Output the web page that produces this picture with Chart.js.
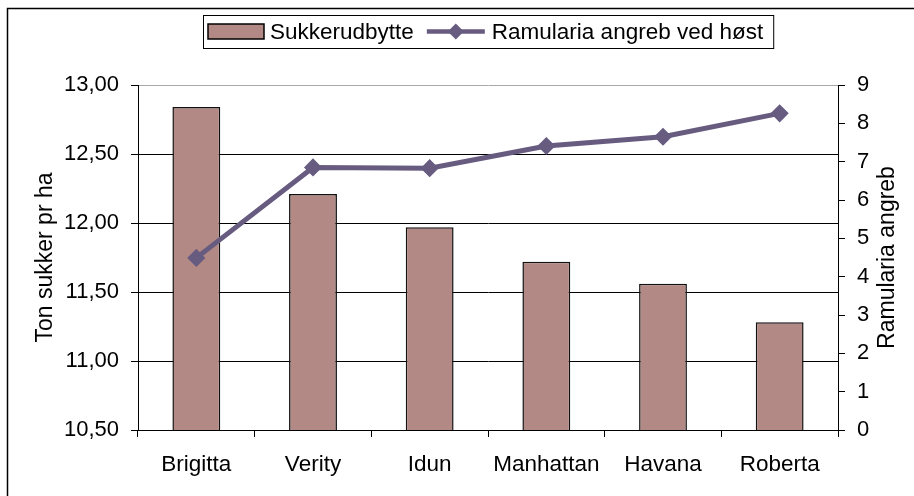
<!DOCTYPE html>
<html>
<head>
<meta charset="utf-8">
<script src="https://cdn.jsdelivr.net/npm/chart.js@4.4.1/dist/chart.umd.min.js"></script>
<style>
  html, body { margin: 0; padding: 0; background: #fff; }
  #wrap { width: 914px; height: 496px; position: relative; }
</style>
</head>
<body>
<div id="wrap"><canvas id="c" width="914" height="496"></canvas></div>
<script>
// ---- data ----
const categories = ['Brigitta', 'Verity', 'Idun', 'Manhattan', 'Havana', 'Roberta'];
const sugarYield = [12.84, 12.21, 11.97, 11.72, 11.56, 11.28];
const ramulariaAttack = [4.49, 6.85, 6.83, 7.41, 7.65, 8.26];
const seriesNames = ['Sukkerudbytte', 'Ramularia angreb ved høst'];
const leftAxisTitle = 'Ton sukker pr ha';
const rightAxisTitle = 'Ramularia angreb';
const leftAxisRange = [10.5, 13, 0.5];
const rightAxisRange = [0, 9, 1];

const FONT = "'Liberation Sans', Arial, sans-serif";
const FS_TICK = 22;
const FS_CAT = 22.5;
const FS_LEG = 22.5;
const FS_TITLE = 23;
const BAR_COLOR = '#B38985';
const LINE_COLOR = '#675C80';

const decorPlugin = {
  id: 'decor',
  beforeDraw(chart) {
    const ctx = chart.ctx;
    ctx.save();
    ctx.fillStyle = '#fff';
    ctx.fillRect(0, 0, chart.width, chart.height);
    ctx.restore();
  },
  afterDraw(chart) {
    const ctx = chart.ctx;
    const area = chart.chartArea;
    ctx.save();
    // outer frame (top + left visible)
    ctx.strokeStyle = '#000';
    ctx.lineWidth = 1.5;
    ctx.beginPath();
    ctx.moveTo(7.5, chart.height);
    ctx.lineTo(7.5, 8.5);
    ctx.lineTo(chart.width, 8.5);
    ctx.stroke();

    // right axis title (reads bottom to top)
    ctx.fillStyle = '#000';
    ctx.font = FS_TITLE + 'px ' + FONT;
    ctx.textAlign = 'center';
    ctx.textBaseline = 'middle';
    ctx.translate(888, (area.top + area.bottom) / 2);
    ctx.rotate(-Math.PI / 2);
    ctx.fillText(rightAxisTitle, 0, 0);
    ctx.restore();

    // legend
    ctx.save();
    ctx.font = FS_LEG + 'px ' + FONT;
    const w1 = ctx.measureText(seriesNames[0]).width;
    const w2 = ctx.measureText(seriesNames[1]).width;
    const swW = 56, lineW = 58;
    const total = 5 + swW + 6 + w1 + 13 + lineW + 7 + w2 + 10;
    const bx = Math.round(488.5 - total / 2);
    const by = 15, bh = 33;
    const cy = by + bh / 2;
    ctx.fillStyle = '#fff';
    ctx.fillRect(bx, by, total, bh);
    ctx.strokeStyle = '#000';
    ctx.lineWidth = 1;
    ctx.strokeRect(bx + 0.5, by + 0.5, total, bh);
    let x = bx + 5;
    ctx.fillStyle = BAR_COLOR;
    ctx.fillRect(x, cy - 7.5, swW, 15);
    ctx.lineWidth = 1.5;
    ctx.strokeStyle = '#000';
    ctx.strokeRect(x, cy - 7.5, swW, 15);
    x += swW + 6;
    ctx.fillStyle = '#000';
    ctx.textBaseline = 'middle';
    ctx.textAlign = 'left';
    ctx.fillText(seriesNames[0], x, cy + 1);
    x += w1 + 13;
    ctx.strokeStyle = LINE_COLOR;
    ctx.lineWidth = 4.5;
    ctx.beginPath();
    ctx.moveTo(x, cy);
    ctx.lineTo(x + lineW, cy);
    ctx.stroke();
    const dx = x + lineW / 2, r = 8;
    ctx.fillStyle = LINE_COLOR;
    ctx.beginPath();
    ctx.moveTo(dx - r, cy); ctx.lineTo(dx, cy - r); ctx.lineTo(dx + r, cy); ctx.lineTo(dx, cy + r);
    ctx.closePath();
    ctx.fill();
    x += lineW + 7;
    ctx.fillStyle = '#000';
    ctx.fillText(seriesNames[1], x, cy + 1);
    ctx.restore();
  }
};

const ctx = document.getElementById('c').getContext('2d');
new Chart(ctx, {
  type: 'bar',
  data: {
    labels: categories,
    datasets: [
      {
        type: 'bar',
        label: seriesNames[0],
        data: sugarYield,
        yAxisID: 'y',
        backgroundColor: BAR_COLOR,
        borderColor: '#111',
        borderWidth: 1.5,
        borderSkipped: 'start',
        barPercentage: 0.41,
        categoryPercentage: 1.0,
        order: 1
      },
      {
        type: 'line',
        label: seriesNames[1],
        data: ramulariaAttack,
        yAxisID: 'y2',
        borderColor: LINE_COLOR,
        backgroundColor: LINE_COLOR,
        borderWidth: 5,
        pointStyle: 'rectRot',
        pointRadius: 8,
        pointBorderWidth: 1.5,
        pointBackgroundColor: LINE_COLOR,
        pointBorderColor: LINE_COLOR,
        tension: 0,
        clip: false,
        order: 0
      }
    ]
  },
  options: {
    responsive: false,
    animation: false,
    layout: { padding: { top: 85, left: 0, right: 0, bottom: 0 } },
    plugins: {
      legend: { display: false },
      tooltip: { enabled: false }
    },
    scales: {
      x: {
        offset: true,
        grid: {
          offset: true,
          drawOnChartArea: false,
          color: '#000',
          tickColor: '#000',
          tickLength: 7
        },
        border: { color: '#000', width: 1 },
        ticks: {
          color: '#000',
          font: { family: FONT, size: FS_CAT },
          padding: 14,
          maxRotation: 0
        },
        afterFit(s) { s.height = 66; }
      },
      y: {
        position: 'left',
        min: leftAxisRange[0],
        max: leftAxisRange[1],
        ticks: {
          stepSize: leftAxisRange[2],
          color: '#000',
          font: { family: FONT, size: FS_TICK },
          padding: 12,
          callback: v => v.toFixed(2).replace('.', ',')
        },
        grid: {
          color: c => (c.tick && Math.abs(c.tick.value - 13) < 1e-6) ? '#a8a8a8' : '#000',
          tickColor: '#000',
          tickLength: 7,
          lineWidth: 1
        },
        border: { color: '#000', width: 1 },
        title: {
          display: true,
          text: leftAxisTitle,
          color: '#000',
          font: { family: FONT, size: FS_TITLE },
          padding: { top: 32, bottom: 0 }
        },
        afterFit(s) { s.width = 138; }
      },
      y2: {
        position: 'right',
        min: rightAxisRange[0],
        max: rightAxisRange[1],
        ticks: {
          stepSize: rightAxisRange[2],
          color: '#000',
          font: { family: FONT, size: FS_TICK },
          padding: 12
        },
        grid: {
          drawOnChartArea: false,
          color: '#000',
          tickColor: '#000',
          tickLength: 7
        },
        border: { color: '#000', width: 1 },
        afterFit(s) { s.width = 76; }
      }
    }
  },
  plugins: [decorPlugin]
});
</script>
</body>
</html>
